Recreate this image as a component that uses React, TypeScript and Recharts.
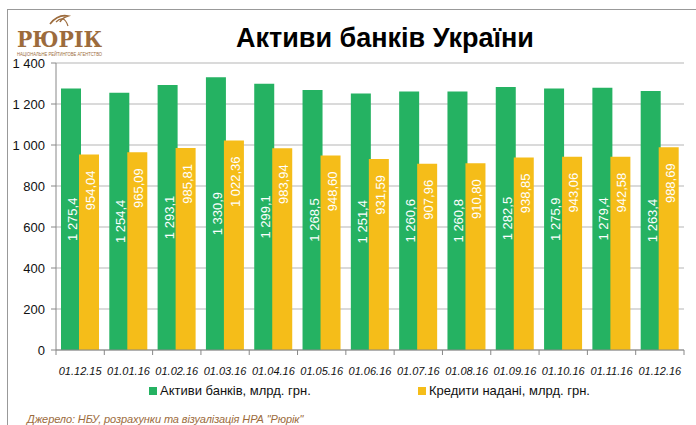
import React from "react";
import {
  BarChart,
  Bar,
  XAxis,
  YAxis,
  CartesianGrid,
  Legend,
  LabelList,
} from "recharts";

const dates = [
  "01.12.15", "01.01.16", "01.02.16", "01.03.16", "01.04.16", "01.05.16", "01.06.16",
  "01.07.16", "01.08.16", "01.09.16", "01.10.16", "01.11.16", "01.12.16",
];
const assets = [1275.4, 1254.4, 1293.1, 1330.9, 1299.1, 1268.5, 1251.4, 1260.6, 1260.8, 1282.5, 1275.9, 1279.4, 1263.4];
const loans = [954.04, 965.09, 985.81, 1022.36, 983.94, 948.6, 931.59, 907.96, 910.8, 938.85, 943.06, 942.58, 988.69];
const yTicks = [0, 200, 400, 600, 800, 1000, 1200, 1400];

const GREEN = "#25b262";
const YELLOW = "#f5bd19";
const BROWN = "#9c6b3c";
const FONT = "'Liberation Sans', Arial, sans-serif";

const data = dates.map((d, i) => ({ date: d, assets: assets[i], loans: loans[i] }));

// 1 275,4 style formatting (space thousands, comma decimal)
function fmt(v: number, digits: number): string {
  const [int, dec] = v.toFixed(digits).split(".");
  const withSpace = int.replace(/\B(?=(\d{3})+(?!\d))/g, " ");
  return dec ? `${withSpace},${dec}` : withSpace;
}

function GreenLabel(props: any) {
  const { x, y, width, height, value } = props;
  const cx = x + width / 2 + 6;
  const cy = y + height / 2;
  return (
    <text
      x={cx}
      y={cy}
      transform={`rotate(-90 ${cx} ${cy})`}
      textAnchor="middle"
      fill="#fff"
      fontSize={13}
      fontFamily={FONT}
    >
      {fmt(value, 1)}
    </text>
  );
}

function YellowLabel(props: any) {
  const { x, y, width, value } = props;
  const cx = x + width / 2 + 6;
  const cy = y + 16;
  return (
    <text
      x={cx}
      y={cy}
      transform={`rotate(-90 ${cx} ${cy})`}
      textAnchor="end"
      fill="#fff"
      fontSize={13}
      fontFamily={FONT}
    >
      {fmt(value, 2)}
    </text>
  );
}

function DateTick(props: any) {
  const { x, y, payload, index, visibleTicksCount } = props;
  const half = payload.offset ?? 24;
  return (
    <g>
      <line x1={x - half} y1={y - 8} x2={x - half} y2={y - 3} stroke="#888" />
      {index === visibleTicksCount - 1 && (
        <line x1={x + half} y1={y - 8} x2={x + half} y2={y - 3} stroke="#888" />
      )}
      <text
        x={x}
        y={y + 17}
        textAnchor="middle"
        fontSize={11}
        fontStyle="italic"
        fill="#111"
        fontFamily={FONT}
      >
        {payload.value}
      </text>
    </g>
  );
}

function LegendBox() {
  const item = (color: string, label: string, left: number) => (
    <div style={{ position: "absolute", left, top: 0, display: "flex", alignItems: "center" }}>
      <span style={{ width: 8, height: 8, background: color, marginRight: 3 }} />
      <span style={{ fontSize: 13, color: "#111" }}>{label}</span>
    </div>
  );
  return (
    <div style={{ position: "relative", height: 18, fontFamily: FONT }}>
      {item(GREEN, "Активи банків, млрд. грн.", 149)}
      {item(YELLOW, "Кредити надані, млрд. грн.", 418)}
    </div>
  );
}

export default function App() {
  return (
    <div
      style={{
        position: "fixed",
        left: 0,
        top: 0,
        width: 696,
        height: 425,
        background: "#fff",
        overflow: "hidden",
        fontFamily: FONT,
      }}
    >
      <div
        style={{
          position: "absolute",
          left: 7,
          top: 9,
          width: 700,
          height: 430,
          borderLeft: "1px solid #999",
          borderTop: "1px solid #999",
        }}
      />
      {/* logo */}
      <svg width={110} height={50} style={{ position: "absolute", left: 10, top: 10 }}>
        <path d="M40 14 Q48 4 58 6 Q52 8 50 12" stroke={BROWN} strokeWidth={1.6} fill="none" />
        <path d="M46 12 Q54 4 58 16" stroke={BROWN} strokeWidth={1.2} fill="none" />
        <text
          x={7}
          y={36.5}
          fontSize={23}
          fontWeight="bold"
          fontFamily="'DejaVu Serif', serif"
          fill={BROWN}
          textLength={85}
          lengthAdjust="spacingAndGlyphs"
        >
          РЮРІК
        </text>
        <text
          x={7}
          y={45.8}
          fontSize={4.5}
          fontFamily={FONT}
          fill={BROWN}
          textLength={85}
          lengthAdjust="spacingAndGlyphs"
        >
          НАЦІОНАЛЬНЕ РЕЙТИНГОВЕ АГЕНТСТВО
        </text>
      </svg>
      <div
        style={{
          position: "absolute",
          left: 0,
          width: 770,
          top: 23,
          textAlign: "center",
          fontSize: 27,
          lineHeight: "31px",
          fontWeight: "bold",
          color: "#000",
        }}
      >
        Активи банків України
      </div>
      <div style={{ position: "absolute", left: 0, top: 0 }}>
        <BarChart
          width={696}
          height={425}
          data={data}
          margin={{ top: 63, right: 12, left: 0, bottom: 15 }}
          barSize={20}
          barGap={-2}
        >
          <CartesianGrid vertical={false} stroke="#b5b5b5" />
          <XAxis
            dataKey="date"
            interval={0}
            tickLine={false}
            axisLine={{ stroke: "#888" }}
            tick={<DateTick />}
            height={42}
          />
          <YAxis
            domain={[0, 1400]}
            ticks={yTicks}
            tickFormatter={(v: number) => fmt(v, 0)}
            width={56}
            tickSize={5}
            tickMargin={6}
            axisLine={{ stroke: "#888" }}
            tickLine={{ stroke: "#888" }}
            tick={{ fontSize: 13, fill: "#111", fontFamily: FONT }}
          />
          <Legend
            verticalAlign="bottom"
            wrapperStyle={{ left: 0, top: 383, width: 696 }}
            content={() => <LegendBox />}
          />
          <Bar dataKey="assets" fill={GREEN} isAnimationActive={false}>
            <LabelList dataKey="assets" content={<GreenLabel />} />
          </Bar>
          <Bar dataKey="loans" fill={YELLOW} isAnimationActive={false}>
            <LabelList dataKey="loans" content={<YellowLabel />} />
          </Bar>
        </BarChart>
      </div>
      <div
        style={{
          position: "absolute",
          left: 27,
          top: 413,
          zIndex: 5,
          fontSize: 11,
          lineHeight: "13px",
          fontStyle: "italic",
          color: BROWN,
          letterSpacing: -0.1,
          whiteSpace: "nowrap",
        }}
      >
        Джерело: НБУ, розрахунки та візуалізація НРА "Рюрік"
      </div>
    </div>
  );
}
